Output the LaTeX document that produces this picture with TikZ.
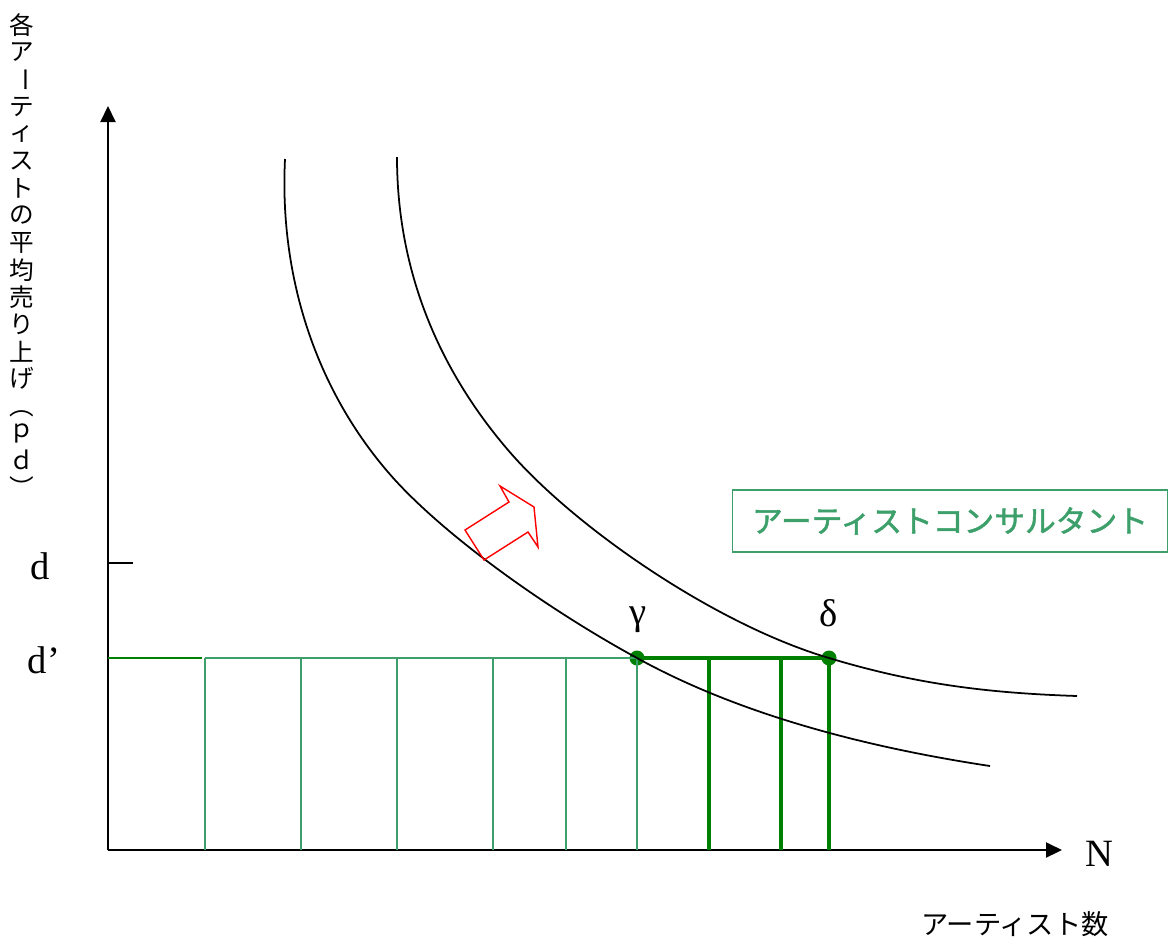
\documentclass[tikz,border=0pt]{standalone}
\usepackage{fontspec}
\usepackage{xcolor}
\usetikzlibrary{arrows.meta}
\setmainfont{Liberation Serif}
\newfontfamily\jpfont{Noto Sans CJK JP}
\newfontfamily\jpheavy[FakeBold=1.6]{Noto Sans CJK JP}
\definecolor{chartgreen}{HTML}{008000}
\definecolor{chartgreenlight}{HTML}{3DA06B}
\definecolor{chartred}{HTML}{FF0000}

\begin{document}
\begin{tikzpicture}[x=0.02cm,y=-0.02cm,
  axis/.style={line width=1.2pt,-{Triangle[length=0.32cm,width=0.3cm]}},
  curve/.style={line width=1pt},
  thinbar/.style={line width=0.8pt,color=chartgreenlight},
  thickbar/.style={line width=2.5pt,color=chartgreen},
  dot/.style={circle,fill=chartgreen,inner sep=0pt,minimum size=0.3cm},
  letter/.style={font=\fontsize{22}{24}\selectfont,inner sep=0pt},
  vchar/.style={font=\jpfont\fontsize{14}{15}\selectfont,inner sep=0pt},
  cbox/.style={rectangle,draw=chartgreenlight,line width=0.9pt,
    minimum width=8.7cm,minimum height=1.24cm,
    font=\jpheavy\fontsize{17.5}{20}\selectfont,text=chartgreenlight},
  shiftarrow/.style={draw=chartred,line width=0.8pt,line join=miter}
]
  \useasboundingbox (0,0) rectangle (1170,938);

  % axes
  \coordinate (O)    at (108,850);
  \coordinate (ytop) at (108,106);
  \coordinate (xend) at (1062,850);
  \coordinate (dtick) at (133,563);
  \draw[axis] (O) -- (ytop);
  \draw[axis] (O) -- (xend);
  \draw[line width=0.9pt] (dtick) -- (dtick -| O);

  % equilibrium points
  \node[dot] (gam) at (637,658) {};
  \node[dot] (del) at (829,658) {};
  \coordinate (dprime) at (108,658);
  \coordinate (lightstart) at (205,658);

  % light grid
  \draw[line width=1.2pt,color=chartgreen] (dprime) -- (202,658);
  \draw[thinbar] (lightstart) -- (gam.center);
  \foreach \x in {205,301,397,493,566,637}
    \draw[thinbar] (\x,658) -- (\x,850);

  % bold grid
  \draw[thickbar] (gam.center) -- (del.center);
  \foreach \x in {709,781,829}
    \draw[thickbar] (\x,658) -- (\x,850);

  % demand curves
  \draw[curve] (285,159) .. controls (279,280) and (318,395) .. (395,480)
    .. controls (449,539) and (549,610) .. (637,658)
    .. controls (742,716) and (871,748) .. (990,766);
  \draw[curve] (397,157) .. controls (397,267) and (436,366) .. (508,450)
    .. controls (573,526) and (714,624) .. (829,658)
    .. controls (915,684) and (987,693) .. (1077,696);

  % shift arrow
  \draw[shiftarrow] (500,486) -- (509,502) -- (465,530) -- (484,560)
    -- (528,532) -- (538,547) -- (534,507) -- cycle;

  % labels
  \node[letter] (dlab)  at (40,566)  {d};
  \node[letter] (dplab) at (44,660)  {d’};
  \node[letter] (nlab)  at (1099,854) {N};
  \node[letter] (glab)  at (638,620) {γ};
  \node[letter] (dllab) at (829,613) {δ};
  \node[cbox] (consult) at (950,521) {アーティストコンサルタント};
  \node[font=\jpfont\fontsize{15.5}{17}\selectfont,inner sep=0pt]
    (xlab) at (1015,924) {アーティスト数};
  \foreach \c/\r [count=\i] in {各/0,ア/0,ー/-90,テ/0,ィ/0,ス/0,ト/0,の/0,
      平/0,均/0,売/0,り/0,上/0,げ/0,（/-90,ｐ/0,ｄ/0,）/-90}
    \node[vchar,rotate=\r] (ylab\i) at (22,{25+(\i-1)*27.2}) {\c};
\end{tikzpicture}
\end{document}
